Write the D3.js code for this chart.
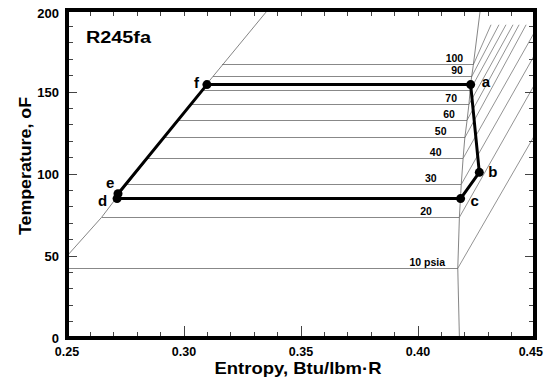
<!DOCTYPE html>
<html>
<head>
<meta charset="utf-8">
<script src="https://cdn.jsdelivr.net/npm/d3@7"></script>
<style>
    body { margin: 0; background: #fff; }
    text { font-family: "Liberation Sans", Arial, sans-serif; }
</style>
</head>
<body>
<div id="svg"></div>
<script>
// isobars, psia
const pressure_labels = ['10 psia', '20', '30', '40', '50', '60', '70', '', '90', '100'];
const t_sat = [42.5, 73.6, 93.7, 109.6, 122.1, 132.9, 142.5, 151.2, 159.3, 166.5];
const s_liq = [0.245, 0.2648, 0.2757, 0.2845, 0.2915, 0.2975, 0.3028, 0.3077, 0.3122, 0.3162];
const s_vap = [0.4170, 0.4177, 0.4185, 0.4193, 0.4200, 0.4210, 0.4218, 0.4223, 0.4229, 0.4236];
const s_super_end = [0.45, 0.45, 0.45, 0.45, 0.4462, 0.4432, 0.4406, 0.4376, 0.4346, 0.4312];
const t_super_end = [124, 155, 173, 187, 191, 191, 191, 191, 191, 191];

// saturation dome
const sat_liq_s = [0.2440, 0.25, 0.2648, 0.2714, 0.3098, 0.3358];
const sat_liq_t = [40, 50, 73.6, 86, 155, 200];
const sat_vap_s = [0.4177, 0.4170, 0.4177, 0.4185, 0.4193, 0.4200, 0.4210, 0.4218, 0.4225, 0.4236, 0.4266];
const sat_vap_t = [0, 42.5, 74, 94, 110, 122, 133, 143, 155, 166, 200];

// cycle states a..f
const state_names = ['a', 'b', 'c', 'd', 'e', 'f'];
const state_s = [0.4225, 0.4262, 0.4182, 0.2714, 0.2718, 0.3098];
const state_t = [154.5, 101, 85, 85, 88, 154.5];

const x_ticks = [0.25, 0.30, 0.35, 0.40, 0.45];
const y_ticks = [0, 50, 100, 150, 200];

document.addEventListener('DOMContentLoaded', () => {

    const SVG_WIDTH = 546;
    const SVG_HEIGHT = 379;
    const LEFT = 67, RIGHT = 535, TOP = 10, BOTTOM = 338;

    // label placement (px)
    const isobar_label_gap = [12.7, 27.6, 24.6, 21.6, 18.3, 12.3, 12, 12, 8.7, 10];
    const state_label_offset = [[11, 2], [9, 5], [10, 7], [-19, 7], [-12, -6], [-13, 3]];

    const svg = d3.select('#svg')
        .append('svg')
            .attr('width', SVG_WIDTH)
            .attr('height', SVG_HEIGHT);

    const x_scale = d3.scaleLinear().domain([0.25, 0.45]).range([LEFT, RIGHT]);
    const y_scale = d3.scaleLinear().domain([0, 200]).range([BOTTOM, TOP]);

    svg.append('clipPath').attr('id', 'plot-clip')
        .append('rect')
            .attr('x', LEFT).attr('y', TOP)
            .attr('width', RIGHT - LEFT).attr('height', BOTTOM - TOP);

    const plot = svg.append('g').attr('clip-path', 'url(#plot-clip)');
    const idx = d3.range(t_sat.length);

    // two-phase isobars
    plot.selectAll('line.iso')
        .data(idx)
        .enter()
        .append('line')
            .attr('class', 'iso')
            .attr('x1', i => x_scale(s_liq[i]))
            .attr('x2', i => x_scale(s_vap[i]))
            .attr('y1', i => y_scale(t_sat[i]))
            .attr('y2', i => y_scale(t_sat[i]))
            .attr('stroke', '#888')
            .attr('stroke-width', 1)
            .attr('shape-rendering', 'crispEdges');

    // superheated isobars
    plot.selectAll('line.sup')
        .data(idx)
        .enter()
        .append('line')
            .attr('class', 'sup')
            .attr('x1', i => x_scale(s_vap[i]))
            .attr('y1', i => y_scale(t_sat[i]))
            .attr('x2', i => x_scale(s_super_end[i]))
            .attr('y2', i => y_scale(t_super_end[i]))
            .attr('stroke', '#777')
            .attr('stroke-width', 0.8);

    const line = d3.line().x(d => x_scale(d[0])).y(d => y_scale(d[1]));

    plot.append('path')
        .attr('d', line(d3.zip(sat_liq_s, sat_liq_t)))
        .attr('fill', 'none').attr('stroke', '#666').attr('stroke-width', 0.8);
    plot.append('path')
        .attr('d', line(d3.zip(sat_vap_s, sat_vap_t)))
        .attr('fill', 'none').attr('stroke', '#666').attr('stroke-width', 0.8);

    // isobar labels
    svg.selectAll('text.iso-label')
        .data(idx.filter(i => pressure_labels[i] !== ''))
        .enter()
        .append('text')
            .attr('class', 'iso-label')
            .attr('x', i => x_scale(s_vap[i]) - isobar_label_gap[i])
            .attr('y', i => y_scale(t_sat[i]) - 2.5)
            .attr('text-anchor', 'end')
            .attr('font-size', 10.5)
            .attr('font-weight', 'bold')
            .text(i => pressure_labels[i]);

    // cycle
    const states = d3.zip(state_s, state_t);
    svg.append('path')
        .attr('d', line(states.concat([states[0]])))
        .attr('fill', 'none')
        .attr('stroke', '#000')
        .attr('stroke-width', 3)
        .attr('stroke-linejoin', 'round');

    svg.selectAll('circle.state')
        .data(states)
        .enter()
        .append('circle')
            .attr('cx', d => x_scale(d[0]))
            .attr('cy', d => y_scale(d[1]))
            .attr('r', 4.5)
            .attr('fill', '#000');

    svg.selectAll('text.state')
        .data(states)
        .enter()
        .append('text')
            .attr('x', (d, i) => x_scale(d[0]) + state_label_offset[i][0])
            .attr('y', (d, i) => y_scale(d[1]) + state_label_offset[i][1])
            .attr('font-size', 15)
            .attr('font-weight', 'bold')
            .text((d, i) => state_names[i]);

    // ticks
    const x_minor = d3.range(26, 45).map(v => v / 100);
    const y_minor = d3.range(10, 200, 10);
    const tick_g = svg.append('g').attr('stroke', '#444').attr('stroke-width', 1)
        .attr('shape-rendering', 'crispEdges');
    const x_len = v => x_ticks.some(t => Math.abs(t - v) < 1e-6) ? 12 : 6;
    const y_len = v => v % 50 === 0 ? 10 : 6;

    tick_g.selectAll('line.xb').data(x_minor).enter().append('line')
        .attr('x1', d => x_scale(d)).attr('x2', d => x_scale(d))
        .attr('y1', BOTTOM).attr('y2', d => BOTTOM - x_len(d));
    tick_g.selectAll('line.xt').data(x_minor).enter().append('line')
        .attr('x1', d => x_scale(d)).attr('x2', d => x_scale(d))
        .attr('y1', TOP).attr('y2', TOP + 6);
    tick_g.selectAll('line.yl').data(y_minor).enter().append('line')
        .attr('y1', d => y_scale(d)).attr('y2', d => y_scale(d))
        .attr('x1', LEFT).attr('x2', d => LEFT + y_len(d));
    tick_g.selectAll('line.yr').data(y_minor).enter().append('line')
        .attr('y1', d => y_scale(d)).attr('y2', d => y_scale(d))
        .attr('x1', RIGHT).attr('x2', d => RIGHT - y_len(d));

    // frame
    svg.append('rect')
        .attr('x', LEFT).attr('y', TOP)
        .attr('width', RIGHT - LEFT).attr('height', BOTTOM - TOP)
        .attr('fill', 'none')
        .attr('stroke', '#000')
        .attr('stroke-width', 4);

    // tick labels, kept inside the window on the right
    svg.selectAll('text.xt')
        .data(x_ticks)
        .enter()
        .append('text')
            .attr('y', 356)
            .attr('text-anchor', 'middle')
            .attr('font-size', 12.5)
            .attr('font-weight', 'bold')
            .text(d => d3.format('.2f')(d))
            .attr('x', function (d) {
                const half = this.getComputedTextLength() / 2;
                return Math.min(x_scale(d), SVG_WIDTH - 3 - half);
            });

    svg.selectAll('text.yt')
        .data(y_ticks)
        .enter()
        .append('text')
            .attr('x', 59)
            .attr('y', d => Math.max(y_scale(d), 13))
            .attr('dy', '0.35em')
            .attr('text-anchor', 'end')
            .attr('font-size', 13)
            .attr('font-weight', 'bold')
            .text(d => d);

    svg.append('text')
        .attr('x', 86).attr('y', 43)
        .attr('font-size', 16)
        .attr('font-weight', 'bold')
        .attr('textLength', 65)
        .attr('lengthAdjust', 'spacingAndGlyphs')
        .text('R245fa');

    svg.append('text')
        .attr('x', 298).attr('y', 374)
        .attr('text-anchor', 'middle')
        .attr('font-size', 17)
        .attr('font-weight', 'bold')
        .attr('textLength', 167)
        .attr('lengthAdjust', 'spacingAndGlyphs')
        .text('Entropy, Btu/lbm\u00b7R');

    svg.append('text')
        .attr('transform', 'translate(31,166) rotate(-90)')
        .attr('text-anchor', 'middle')
        .attr('font-size', 17)
        .attr('font-weight', 'bold')
        .attr('textLength', 138)
        .attr('lengthAdjust', 'spacingAndGlyphs')
        .text('Temperature, oF');
});
</script>
</body>
</html>
